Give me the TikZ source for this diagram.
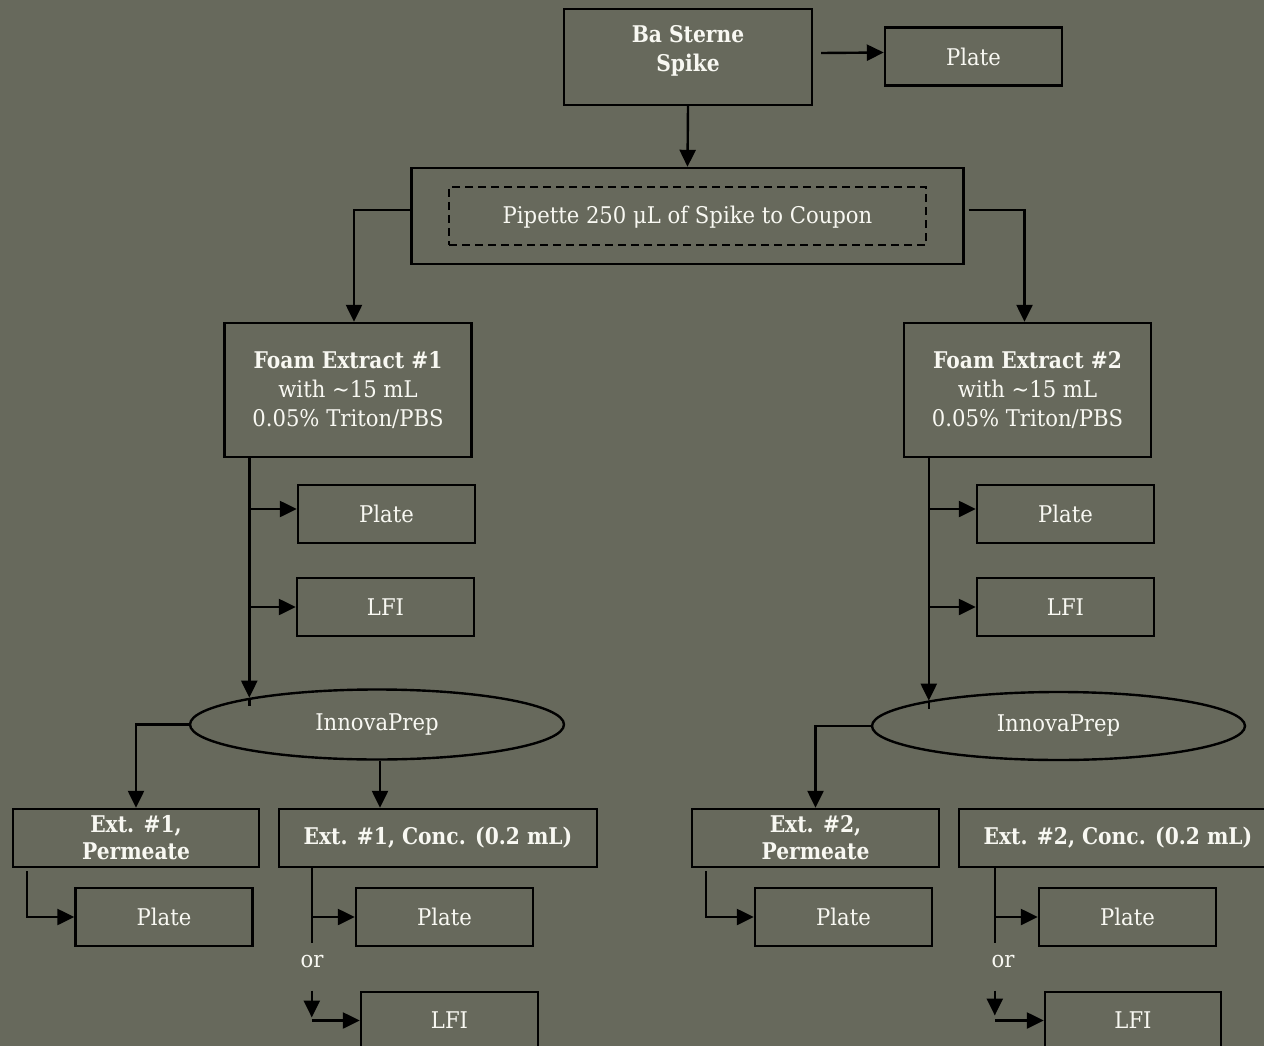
\documentclass[tikz,border=0pt]{standalone}
\usepackage{fontspec}
\setmainfont{DejaVu Serif}[FakeStretch=0.92, BoldFeatures={FakeStretch=0.88}]
\usetikzlibrary{arrows.meta,shapes.geometric}
\definecolor{bg}{RGB}{103,105,92}
\definecolor{txt}{RGB}{248,248,242}
\tikzset{
  frame/.style={draw=black, line width=2.4pt, rectangle, inner sep=0pt},
  box/.style={frame, text=txt, align=center, font=\fontsize{23}{29}\selectfont},
  lbl/.style={text=txt, align=center, inner sep=0pt, font=\fontsize{23}{29}\selectfont},
  ell/.style={draw=black, line width=2.4pt, ellipse, inner sep=0pt, text=txt, font=\fontsize{23}{29}\selectfont},
  arr/.style={draw=black, line width=2.4pt, -{Triangle[length=17pt,width=16pt]}},
  ln/.style={draw=black, line width=2.4pt},
}
\begin{document}
\begin{tikzpicture}[x=1pt,y=-1pt]
\fill[bg] (0,0) rectangle (1264,1046);
\useasboundingbox (0,0) rectangle (1264,1046);
\clip (0,0) rectangle (1264,1046);

% top
\node[frame, minimum width=248, minimum height=96] (spike) at (688,57) {};
\node[lbl, font=\bfseries\fontsize{23}{29}\selectfont] (spikeT) at (688,51) {Ba Sterne\\Spike};
\node[box, minimum width=177, minimum height=58] (plate0) at (973.5,56.5) {Plate};
\draw[arr] ([xshift=8,yshift=4]spike.east) -- ([yshift=4]plate0.west);

\node[frame, minimum width=552, minimum height=96] (pipbox) at (687.5,216) {};
\node[box, dash pattern=on 8pt off 5pt, minimum width=477, minimum height=58, text height=20pt] (pip) at (687.5,216) {Pipette 250 μL of Spike to Coupon};
\draw[arr] (spike.south) -- (pipbox.north);

% foam extracts
\node[box, minimum width=247, minimum height=134] (foamA) at (348,390) {\textbf{Foam Extract \#1}\\with \textasciitilde15 mL\\0.05\% Triton/PBS};
\node[box, minimum width=247, minimum height=134] (foamB) at (1027.5,390) {\textbf{Foam Extract \#2}\\with \textasciitilde15 mL\\0.05\% Triton/PBS};
\draw[arr] ([yshift=6]pipbox.west) -| ([xshift=6]foamA.north);
\draw[arr] ([xshift=4,yshift=6]pipbox.east) -| ([xshift=-3]foamB.north);

% left column
\node[box, minimum width=177, minimum height=58] (plateA) at (386.5,514) {Plate};
\node[box, minimum width=177, minimum height=58] (lfiA) at (385.5,607) {LFI};
\node[ell, minimum width=374, minimum height=70] (ellA) at (377,724.5) {InnovaPrep};
\coordinate (tA) at ([xshift=26]foamA.south west);
\draw[arr] (tA) -- (tA |- ellA.168);
\draw[ln] (tA |- ellA.168) -- ++(0,8);
\draw[arr] (tA |- plateA.west) ++(0,-5) -- ([yshift=5]plateA.west);
\draw[arr] (tA |- lfiA.west) -- (lfiA.west);

% right column
\node[box, minimum width=177, minimum height=58] (plateB) at (1065.5,514) {Plate};
\node[box, minimum width=177, minimum height=58] (lfiB) at (1065.5,607) {LFI};
\node[ell, minimum width=373, minimum height=68] (ellB) at (1058.5,726) {InnovaPrep};
\coordinate (tB) at ([xshift=26]foamB.south west);
\draw[arr] (tB) -- (tB |- ellB.169);
\draw[ln] (tB |- ellB.169) -- ++(0,8);
\draw[arr] (tB |- plateB.west) ++(0,-5) -- ([yshift=5]plateB.west);
\draw[arr] (tB |- lfiB.west) -- (lfiB.west);

% bottom left
\node[box, minimum width=246, minimum height=58, font=\bfseries\fontsize{23}{27}\selectfont] (permA) at (136,838) {Ext. \#1,\\Permeate};
\node[box, minimum width=318, minimum height=58, font=\bfseries\fontsize{23}{27}\selectfont] (concA) at (438,838) {Ext. \#1, Conc. (0.2 mL)};
\draw[arr] (ellA.west) -| (permA.north);
\draw[arr] ([xshift=3]ellA.south) -- ([xshift=3]ellA.south |- concA.north);
\node[box, minimum width=177, minimum height=58] (platePA) at (164,917) {Plate};
\draw[arr] ([xshift=15,yshift=-3]permA.south west) |- (platePA.west);
\node[box, minimum width=177, minimum height=58] (plateCA) at (444.5,917) {Plate};
\coordinate (cA) at ([xshift=34]concA.south west);
\draw[ln] (cA) -- ++(0,75);
\draw[arr] (cA |- plateCA.west) -- (plateCA.west);
\node[lbl] (orA) at (312,962) {or};
\node[box, minimum width=177, minimum height=57] (lfiCA) at (449.5,1020.5) {LFI};
\coordinate (dA) at ([yshift=-22]orA.south);
\draw[arr] (cA |- dA) -- ++(0,27);
\draw[arr] (cA |- lfiCA.west) -- (lfiCA.west);

% bottom right
\node[box, minimum width=247, minimum height=58, font=\bfseries\fontsize{23}{27}\selectfont] (permB) at (815.5,838) {Ext. \#2,\\Permeate};
\node[box, minimum width=318, minimum height=58, font=\bfseries\fontsize{23}{27}\selectfont] (concB) at (1118,838) {Ext. \#2, Conc. (0.2 mL)};
\draw[arr] (ellB.west) -| (permB.north);
\node[box, minimum width=177, minimum height=58] (platePB) at (843.5,917) {Plate};
\draw[arr] ([xshift=15,yshift=-3]permB.south west) |- (platePB.west);
\node[box, minimum width=177, minimum height=58] (plateCB) at (1127.5,917) {Plate};
\coordinate (cB) at ([xshift=37]concB.south west);
\draw[ln] (cB) -- ++(0,75);
\draw[arr] (cB |- plateCB.west) -- (plateCB.west);
\node[lbl] (orB) at (1003,962) {or};
\node[box, minimum width=176, minimum height=57] (lfiCB) at (1133,1020.5) {LFI};
\coordinate (dB) at ([yshift=-22]orB.south);
\draw[arr] (cB |- dB) -- ++(0,25);
\draw[arr] (cB |- lfiCB.west) -- (lfiCB.west);
\end{tikzpicture}
\end{document}
